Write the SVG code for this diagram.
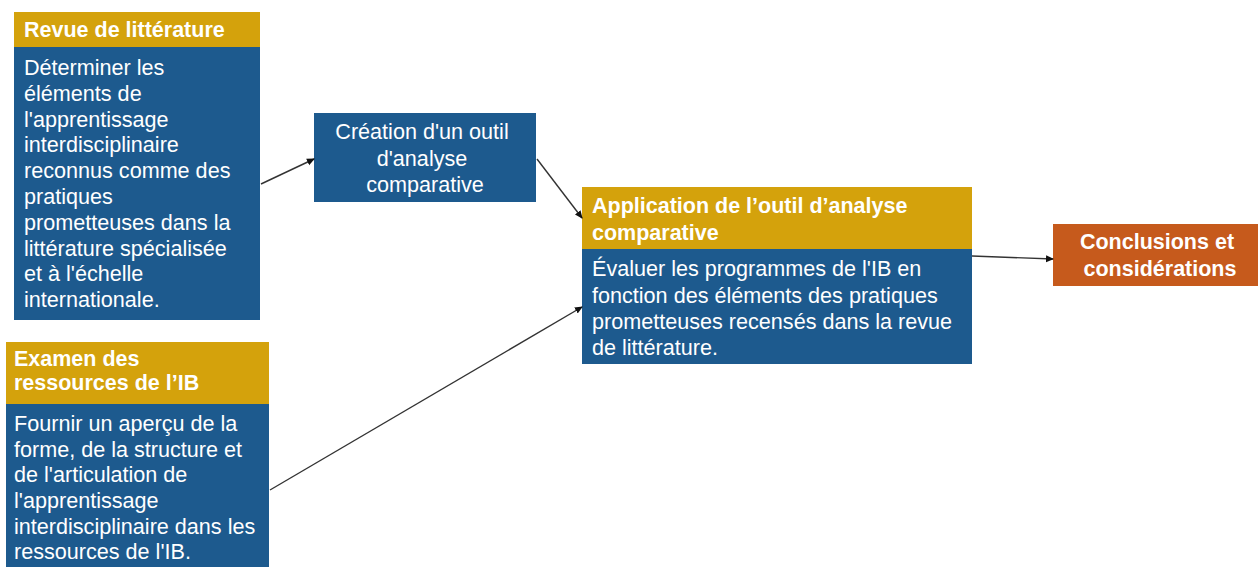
<svg xmlns="http://www.w3.org/2000/svg" width="1258" height="567" viewBox="0 0 1258 567">
<style>
.hd{fill:#D4A20C}
.bd{fill:#1D5A8E}
.or{fill:#C65A1C}
text{font-family:"Liberation Sans",Arial,sans-serif;fill:#fff}
.h{font-size:21.5px;font-weight:bold}
.b{font-size:21.6px}
.c{stroke:#333;stroke-width:1.4;fill:none;marker-end:url(#ah)}
</style>
<defs>
<marker id="ah" markerWidth="8" markerHeight="8" refX="7" refY="4" orient="auto" markerUnits="userSpaceOnUse">
<path d="M0,0.5 L8,4 L0,7.5 Z" fill="#111"/>
</marker>
</defs>
<rect width="1258" height="567" fill="#fff"/>
<g id="revue">
<rect class="hd" x="14" y="12" width="246" height="35"/>
<rect class="bd" x="14" y="47" width="246" height="273"/>
<text class="h" x="24" y="37">Revue de littérature</text>
<text class="b">
<tspan x="24" y="75">Déterminer les</tspan>
<tspan x="24" y="101">éléments de</tspan>
<tspan x="24" y="127">l'apprentissage</tspan>
<tspan x="24" y="152">interdisciplinaire</tspan>
<tspan x="24" y="178">reconnus comme des</tspan>
<tspan x="24" y="204">pratiques</tspan>
<tspan x="24" y="230">prometteuses dans la</tspan>
<tspan x="24" y="256">littérature spécialisée</tspan>
<tspan x="24" y="281">et à l'échelle</tspan>
<tspan x="24" y="307">internationale.</tspan>
</text>
</g>
<g id="examen">
<rect class="hd" x="6" y="342" width="263" height="62"/>
<rect class="bd" x="6" y="404" width="263" height="170"/>
<text class="h">
<tspan x="14" y="366">Examen des</tspan>
<tspan x="14" y="390">ressources de l’IB</tspan>
</text>
<text class="b">
<tspan x="14" y="431">Fournir un aperçu de la</tspan>
<tspan x="14" y="457">forme, de la structure et</tspan>
<tspan x="14" y="482">de l'articulation de</tspan>
<tspan x="14" y="508">l'apprentissage</tspan>
<tspan x="14" y="534">interdisciplinaire dans les</tspan>
<tspan x="14" y="559">ressources de l'IB.</tspan>
</text>
</g>
<g id="creation">
<rect class="bd" x="314" y="113" width="222" height="89"/>
<text class="b" text-anchor="middle">
<tspan x="425" y="139">Création d'un outil</tspan>
<tspan x="425" y="166">d'analyse</tspan>
<tspan x="425" y="192">comparative</tspan>
</text>
</g>
<g id="application">
<rect class="hd" x="582" y="187" width="390" height="62"/>
<rect class="bd" x="582" y="249" width="390" height="115"/>
<text class="h">
<tspan x="592" y="213">Application de l’outil d’analyse</tspan>
<tspan x="592" y="240">comparative</tspan>
</text>
<text class="b">
<tspan x="592" y="276">Évaluer les programmes de l'IB en</tspan>
<tspan x="592" y="303">fonction des éléments des pratiques</tspan>
<tspan x="592" y="329">prometteuses recensés dans la revue</tspan>
<tspan x="592" y="355">de littérature.</tspan>
</text>
</g>
<g id="conclusions">
<rect class="or" x="1053" y="224" width="205" height="62"/>
<text class="h" text-anchor="middle">
<tspan x="1160" y="249">Conclusions et</tspan>
<tspan x="1160" y="276">considérations</tspan>
</text>
</g>
<g id="connectors">
<line class="c" x1="261" y1="184" x2="314" y2="159"/>
<line class="c" x1="537" y1="159" x2="582" y2="218"/>
<line class="c" x1="270" y1="490" x2="582" y2="307"/>
<line class="c" x1="972" y1="256" x2="1053" y2="259"/>
</g>
</svg>
